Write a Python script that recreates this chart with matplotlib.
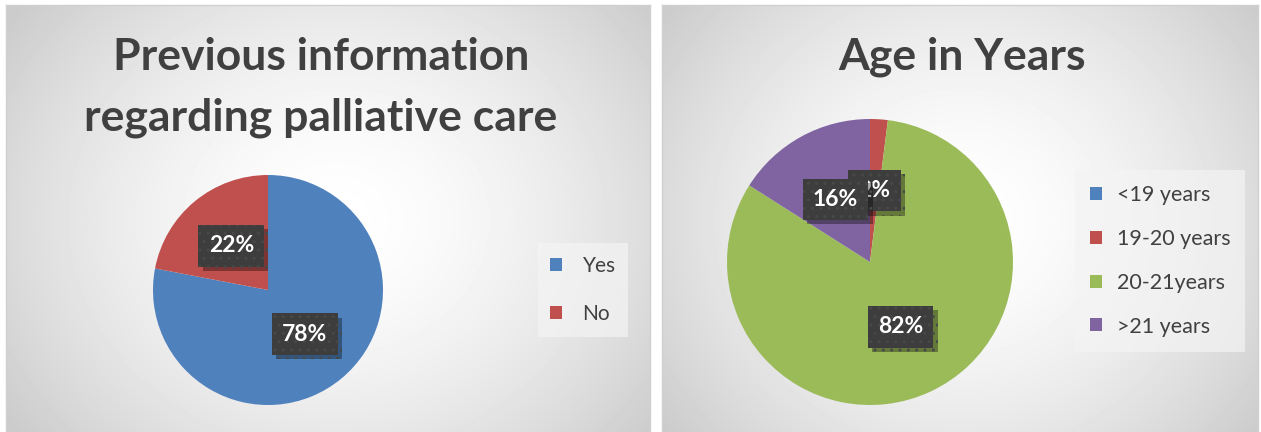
import numpy as np
import matplotlib
matplotlib.use('Agg')
import matplotlib.pyplot as plt
import matplotlib.patheffects as pe

# ---- data ----
info_labels = ['Yes', 'No']
info_values = [78, 22]
info_title = ['Previous information', 'regarding palliative care']

age_labels = ['<19 years', '19-20 years', '20-21years', '>21 years']
age_values = [0, 2, 82, 16]
age_title = 'Age in Years'

info_colors = ['#4F81BD', '#C0504D']
age_colors = ['#4F81BD', '#C0504D', '#9BBB59', '#8064A2']

FONT = 'Lato'
TXT = '#404040'

W, H = 1261, 432
fig = plt.figure(figsize=(W / 100, H / 100), dpi=100)
fig.patch.set_facecolor('white')


def px_axes(x0, y0, w, h, z=0):
    return fig.add_axes([x0 / W, 1 - (y0 + h) / H, w / W, h / H], zorder=z)


def background(x0, y0, w, h, cx, cy):
    ax = px_axes(x0, y0, w, h, z=0)
    yy, xx = np.mgrid[0:h, 0:w]
    d = np.sqrt(((xx - cx) / (w * 0.62)) ** 2 + ((yy - cy) / (h * 0.8)) ** 2)
    v = 1 - 0.2 * np.clip(d, 0, 1) ** 1.6
    ax.imshow(v, cmap='gray', vmin=0, vmax=1, aspect='auto',
              interpolation='bilinear')
    ax.set_xticks([])
    ax.set_yticks([])
    for s in ax.spines.values():
        s.set_color('#d0d0d0')
        s.set_linewidth(1.0)
    return ax


def pct_fmt(p):
    return f'{p:.0f}%' if p > 0.5 else ''


def style_labels(texts):
    for t in texts:
        if not t.get_text():
            continue
        t.set_color('white')
        t.set_fontweight('bold')
        t.set_fontsize(16.5)
        t.set_family(FONT)
        t.set_bbox(dict(boxstyle='square,pad=0.45', fc='#3d3d3d',
                        ec='#484848', lw=0, hatch='..'))
        t.get_bbox_patch().set_path_effects(
            [pe.withSimplePatchShadow(offset=(3, -3), shadow_rgbFace='black',
                                      alpha=0.35)])


# ---- backgrounds ----
background(6, 5, 644, 430, 330, 215)
background(662, 5, 596, 430, 300, 215)

# ---- left chart ----
fig.text(321 / W, 1 - 57 / H, info_title[0], ha='center', va='center',
         fontsize=32, fontweight='bold', family=FONT, color=TXT, zorder=5)
fig.text(321 / W, 1 - 118 / H, info_title[1], ha='center', va='center',
         fontsize=32, fontweight='bold', family=FONT, color=TXT, zorder=5)

cx, cy, r = 268, 290, 115
ax1 = px_axes(cx - r, cy - r, 2 * r, 2 * r, z=2)
w1, _, at1 = ax1.pie(info_values, colors=info_colors, startangle=90,
                     counterclock=False, autopct=pct_fmt, pctdistance=0.5,
                     wedgeprops=dict(linewidth=0))
ax1.set_xlim(-1, 1)
ax1.set_ylim(-1, 1)
ax1.set_aspect('equal')
ax1.axis('off')
style_labels(at1)

leg1 = fig.legend(w1, info_labels, loc='center',
                  bbox_to_anchor=(583 / W, 1 - 290 / H),
                  prop=dict(family=FONT, size=15), labelcolor=TXT,
                  handlelength=0.55, handleheight=0.55, handletextpad=1.0,
                  labelspacing=1.35, borderpad=0.6, frameon=True,
                  fancybox=False)
leg1.get_frame().set_facecolor('#f4f4f4')
leg1.get_frame().set_alpha(0.7)
leg1.get_frame().set_edgecolor('none')

# ---- right chart ----
fig.text(962 / W, 1 - 57 / H, age_title, ha='center', va='center',
         fontsize=32, fontweight='bold', family=FONT, color=TXT, zorder=5)

cx, cy, r = 870, 262, 143
ax2 = px_axes(cx - r, cy - r, 2 * r, 2 * r, z=2)
w2, _, at2 = ax2.pie(age_values, colors=age_colors, startangle=90,
                     counterclock=False, autopct=pct_fmt, pctdistance=0.5,
                     wedgeprops=dict(linewidth=0))
ax2.set_xlim(-1, 1)
ax2.set_ylim(-1, 1)
ax2.set_aspect('equal')
ax2.axis('off')
style_labels(at2)

leg2 = fig.legend(w2, age_labels, loc='center',
                  bbox_to_anchor=(1160 / W, 1 - 261 / H),
                  prop=dict(family=FONT, size=15.5), labelcolor=TXT,
                  handlelength=0.55, handleheight=0.55, handletextpad=0.7,
                  labelspacing=1.1, borderpad=0.7, frameon=True,
                  fancybox=False)
leg2.get_frame().set_facecolor('#f4f4f4')
leg2.get_frame().set_alpha(0.7)
leg2.get_frame().set_edgecolor('none')

fig.savefig('out.png', dpi=100, facecolor='white')
